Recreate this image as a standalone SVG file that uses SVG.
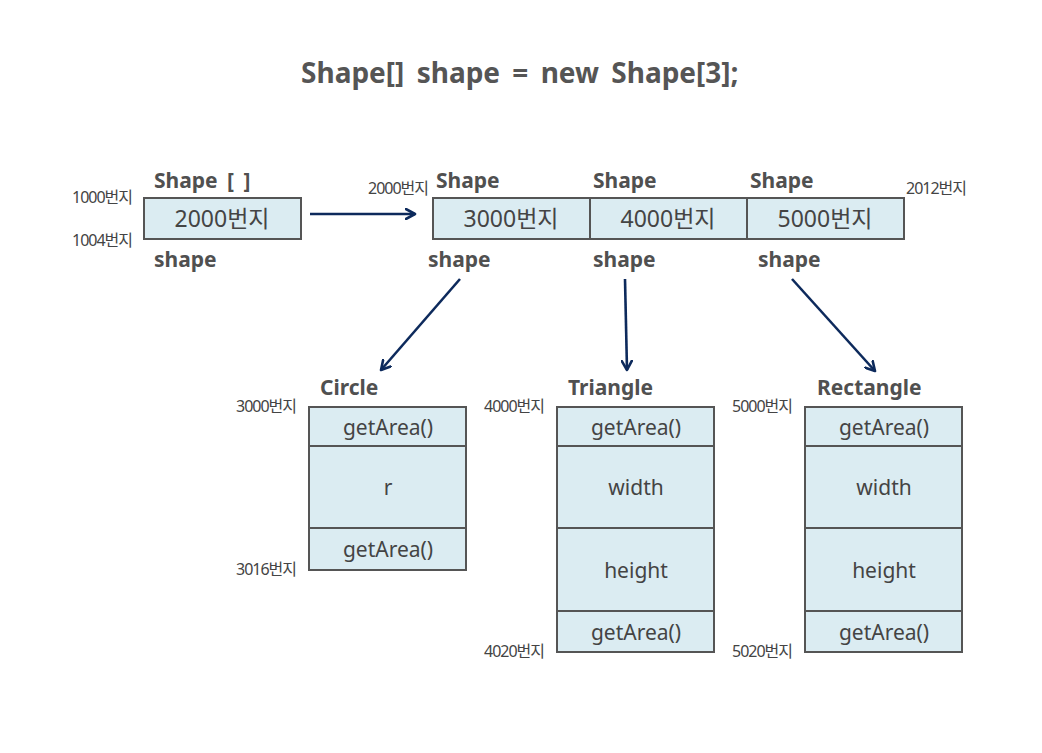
<svg xmlns="http://www.w3.org/2000/svg" width="1042" height="753" viewBox="0 0 1042 753">
<defs>
<marker id="ah" viewBox="0 0 12 12" refX="10" refY="6" markerWidth="12" markerHeight="12" markerUnits="userSpaceOnUse" orient="auto">
<path d="M1,1 L10,6 L1,11" fill="none" stroke="#0d2a5c" stroke-width="2.6" stroke-linecap="round" stroke-linejoin="round"/>
</marker>
<style>
text{font-family:"Noto Sans","Noto Sans CJK KR",sans-serif;fill:#444}
.t{font-size:28px;font-weight:bold;fill:#555;word-spacing:5px}
.lb{font-size:21px;font-weight:bold;fill:#505050}
.v{font-size:21px;text-anchor:middle}
.w{font-size:23px;text-anchor:middle}
.s{font-size:16px;letter-spacing:-1px;fill:#444}
.box{fill:#dbecf2;stroke:#555;stroke-width:2}
.cell{fill:none;stroke:#555;stroke-width:2}
.con{stroke:#0d2a5c;stroke-width:2.6;fill:none;marker-end:url(#ah)}
</style>
</defs>
<rect width="1042" height="753" fill="#fff"/>
<text class="t" x="301" y="83">Shape[] shape = new Shape[3];</text>

<g id="ref">
<text class="lb" x="154" y="188" word-spacing="4">Shape [ ]</text>
<rect class="box" x="144" y="198" width="157" height="41"/>
<text class="w" x="222" y="227">2000번지</text>
<text class="lb" x="154" y="267">shape</text>
<text class="s" x="72" y="203">1000번지</text>
<text class="s" x="72" y="246">1004번지</text>
</g>

<g id="array">
<text class="s" x="368" y="194">2000번지</text>
<text class="s" x="906" y="194">2012번지</text>
<rect class="box" x="433" y="198" width="471" height="41"/>
<line class="cell" x1="590" y1="198" x2="590" y2="239"/>
<line class="cell" x1="747" y1="198" x2="747" y2="239"/>
<text class="w" x="511" y="227">3000번지</text>
<text class="w" x="668" y="227">4000번지</text>
<text class="w" x="825" y="227">5000번지</text>
<text class="lb" x="436" y="188">Shape</text>
<text class="lb" x="593" y="188">Shape</text>
<text class="lb" x="750" y="188">Shape</text>
<text class="lb" x="428" y="267">shape</text>
<text class="lb" x="593" y="267">shape</text>
<text class="lb" x="758" y="267">shape</text>
</g>

<g id="circle">
<text class="lb" x="320" y="395">Circle</text>
<text class="s" x="236" y="412">3000번지</text>
<text class="s" x="236" y="575">3016번지</text>
<rect class="box" x="309" y="407" width="157" height="163"/>
<line class="cell" x1="309" y1="446" x2="466" y2="446"/>
<line class="cell" x1="309" y1="528" x2="466" y2="528"/>
<text class="v" x="388" y="435">getArea()</text>
<text class="v" x="388" y="495">r</text>
<text class="v" x="388" y="557">getArea()</text>
</g>

<g id="triangle">
<text class="lb" x="568" y="395">Triangle</text>
<text class="s" x="484" y="412">4000번지</text>
<text class="s" x="484" y="657">4020번지</text>
<rect class="box" x="557" y="407" width="157" height="245"/>
<line class="cell" x1="557" y1="446" x2="714" y2="446"/>
<line class="cell" x1="557" y1="528" x2="714" y2="528"/>
<line class="cell" x1="557" y1="611" x2="714" y2="611"/>
<text class="v" x="636" y="435">getArea()</text>
<text class="v" x="636" y="495">width</text>
<text class="v" x="636" y="578">height</text>
<text class="v" x="636" y="640">getArea()</text>
</g>

<g id="rectangle">
<text class="lb" x="817" y="395">Rectangle</text>
<text class="s" x="732" y="412">5000번지</text>
<text class="s" x="732" y="657">5020번지</text>
<rect class="box" x="805" y="407" width="157" height="245"/>
<line class="cell" x1="805" y1="446" x2="962" y2="446"/>
<line class="cell" x1="805" y1="528" x2="962" y2="528"/>
<line class="cell" x1="805" y1="611" x2="962" y2="611"/>
<text class="v" x="884" y="435">getArea()</text>
<text class="v" x="884" y="495">width</text>
<text class="v" x="884" y="578">height</text>
<text class="v" x="884" y="640">getArea()</text>
</g>

<g id="connectors">
<line class="con" x1="310" y1="214" x2="415" y2="214"/>
<line class="con" x1="460" y1="279" x2="381" y2="370"/>
<line class="con" x1="625" y1="279" x2="627" y2="370"/>
<line class="con" x1="792" y1="279" x2="875" y2="371"/>
</g>
</svg>
